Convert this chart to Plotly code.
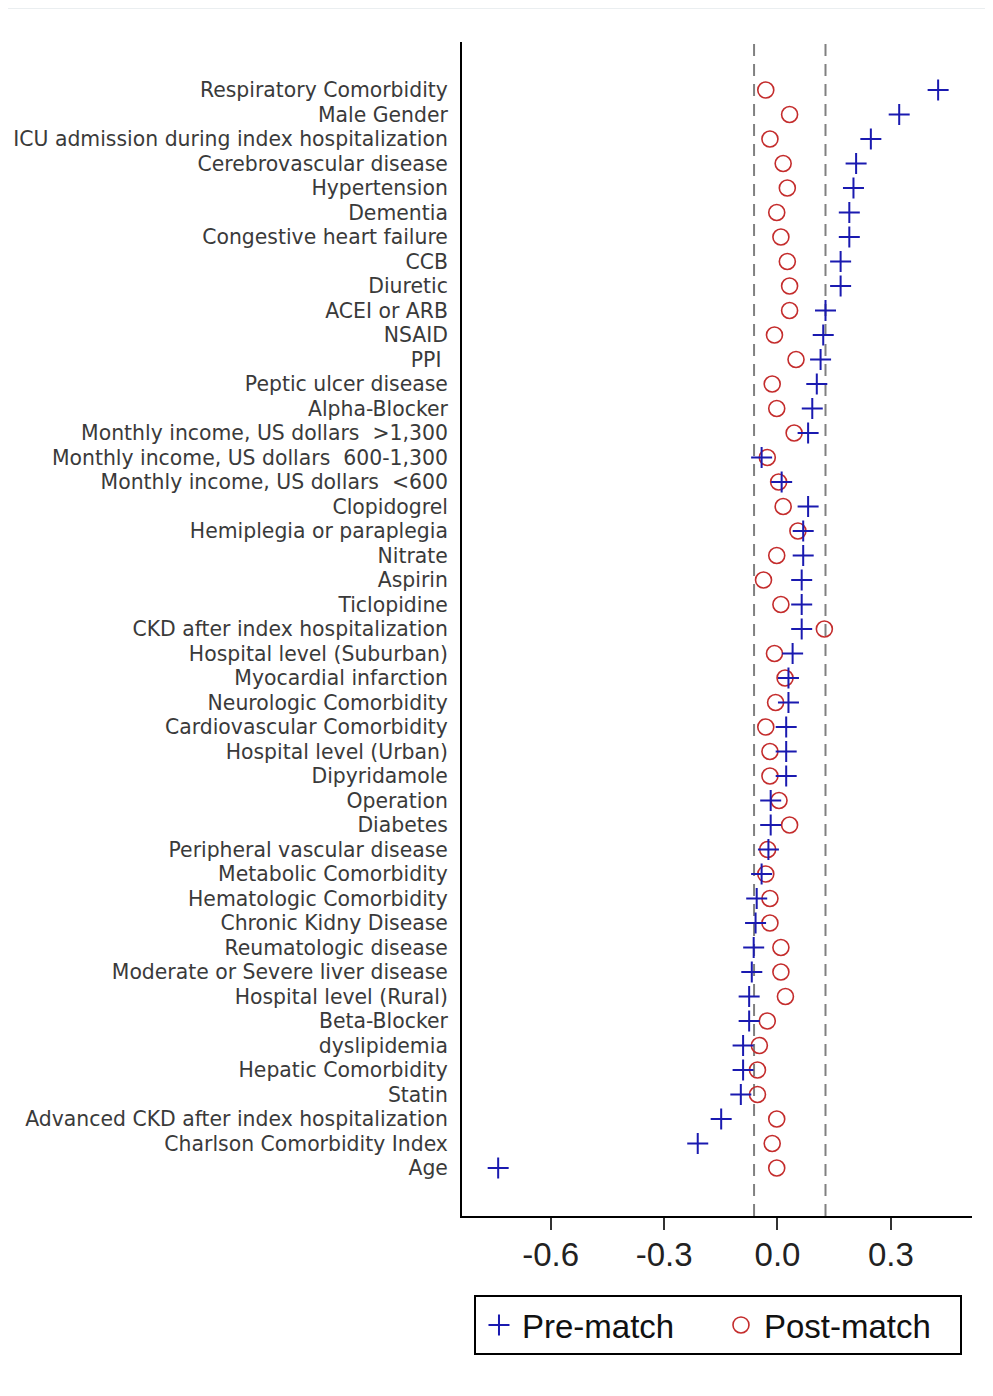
import plotly.graph_objects as go

labels = [
    "Respiratory Comorbidity", "Male Gender", "ICU admission during index hospitalization",
    "Cerebrovascular disease", "Hypertension", "Dementia", "Congestive heart failure", "CCB",
    "Diuretic", "ACEI or ARB", "NSAID", "PPI ", "Peptic ulcer disease", "Alpha-Blocker",
    "Monthly income, US dollars  >1,300", "Monthly income, US dollars  600-1,300",
    "Monthly income, US dollars  <600", "Clopidogrel", "Hemiplegia or paraplegia", "Nitrate",
    "Aspirin", "Ticlopidine", "CKD after index hospitalization", "Hospital level (Suburban)",
    "Myocardial infarction", "Neurologic Comorbidity", "Cardiovascular Comorbidity",
    "Hospital level (Urban)", "Dipyridamole", "Operation", "Diabetes",
    "Peripheral vascular disease", "Metabolic Comorbidity", "Hematologic Comorbidity",
    "Chronic Kidny Disease", "Reumatologic disease", "Moderate or Severe liver disease",
    "Hospital level (Rural)", "Beta-Blocker", "dyslipidemia", "Hepatic Comorbidity", "Statin",
    "Advanced CKD after index hospitalization", "Charlson Comorbidity Index", "Age",
]

pre_match = [
    0.425, 0.322, 0.247, 0.208, 0.201, 0.190, 0.190, 0.167, 0.167, 0.127,
    0.121, 0.114, 0.104, 0.092, 0.081, -0.042, 0.011, 0.081, 0.068, 0.068,
    0.064, 0.064, 0.064, 0.040, 0.029, 0.029, 0.023, 0.023, 0.023, -0.018,
    -0.018, -0.024, -0.042, -0.055, -0.058, -0.063, -0.068, -0.075, -0.075, -0.091,
    -0.091, -0.097, -0.149, -0.211, -0.739,
]

post_match = [
    -0.031, 0.032, -0.020, 0.015, 0.026, -0.002, 0.009, 0.026, 0.032, 0.032,
    -0.008, 0.049, -0.014, -0.002, 0.044, -0.027, 0.003, 0.015, 0.054, -0.002,
    -0.037, 0.009, 0.124, -0.008, 0.020, -0.005, -0.031, -0.020, -0.020, 0.004,
    0.032, -0.026, -0.031, -0.020, -0.020, 0.009, 0.009, 0.021, -0.027, -0.048,
    -0.053, -0.053, -0.002, -0.014, -0.002,
]

ref_lines = [-0.062, 0.127]
x_ticks = [-0.6, -0.3, 0.0, 0.3]
x_tick_text = ["-0.6", "-0.3", "0.0", "0.3"]

rows = list(range(len(labels)))

fig = go.Figure()
fig.add_trace(go.Scatter(
    x=post_match, y=rows, mode="markers", name="Post-match", legendrank=2,
    marker=dict(symbol="circle-open", size=16, color="#c42c2c", line=dict(width=1.6, color="#c42c2c")),
))
fig.add_trace(go.Scatter(
    x=pre_match, y=rows, mode="markers", name="Pre-match", legendrank=1,
    marker=dict(symbol="cross-thin", size=15, color="#1a1ab0", line=dict(width=2, color="#1a1ab0")),
))

for v in ref_lines:
    fig.add_shape(type="line", xref="x", yref="paper", x0=v, x1=v, y0=0, y1=1,
                  line=dict(color="#808080", width=2, dash="12px,8px"), layer="below")

# faint outer frame
fig.add_shape(type="line", xref="paper", yref="paper", x0=-0.893, x1=1.05, y0=1.030, y1=1.030,
              line=dict(color="#e3e8eb", width=4))
fig.add_shape(type="line", xref="paper", yref="paper", x0=-0.893, x1=-0.893, y0=1.030, y1=-0.16,
              line=dict(color="#e9edf0", width=2))

fig.update_layout(
    width=985, height=1388,
    margin=dict(l=454, r=21, t=34, b=180, autoexpand=False),
    paper_bgcolor="white", plot_bgcolor="white",
    showlegend=True,
    legend=dict(
        orientation="h", x=0.0235, xanchor="left", y=-0.0673, yanchor="top",
        bordercolor="black", borderwidth=2, bgcolor="white",
        font=dict(family="Liberation Sans, Arial, sans-serif", size=33, color="#111"),
        entrywidth=191, entrywidthmode="pixels", itemwidth=36,
    ),
    xaxis=dict(
        range=[-0.8347, 0.5146], tickvals=x_ticks, ticktext=x_tick_text, automargin=False,
        showgrid=False, zeroline=False, showline=True, linecolor="black", linewidth=2,
        ticks="outside", ticklen=12, tickwidth=2, tickcolor="#333", ticklabelstandoff=-4,
        tickfont=dict(family="Liberation Sans, Arial, sans-serif", size=33, color="#222"),
    ),
    yaxis=dict(
        range=[45.96, -1.96], tickvals=rows, ticktext=labels, automargin=False,
        showgrid=False, zeroline=False, showline=True, linecolor="black", linewidth=2,
        ticks="", ticklabelstandoff=8,
        tickfont=dict(family="DejaVu Sans, sans-serif", size=20.4, color="#3a3a3a"),
    ),
)

fig.write_html("out.html")
